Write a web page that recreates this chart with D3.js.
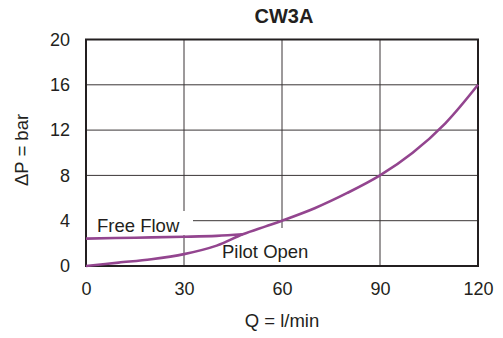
<!DOCTYPE html>
<html><head><meta charset="utf-8">
<script src="https://cdn.jsdelivr.net/npm/d3@7"></script>
<style>body{margin:0;background:#fff}svg{display:block}text{font-family:"Liberation Sans",Arial,sans-serif;fill:#231f20}</style>
</head><body><svg id="c" width="503" height="338"></svg>
<script>
const xTicks = [0, 30, 60, 90, 120];
const yTicks = [0, 4, 8, 12, 16, 20];
const pilotQ = [0, 10, 20, 30, 40, 48, 55, 60, 70, 80, 90, 100, 110, 120];
const pilotP = [0, 0.3, 0.6, 1.05, 1.8, 2.8, 3.5, 4.0, 5.1, 6.45, 8.0, 10.0, 12.6, 16];
const freeQ = [0, 15, 30, 40, 48];
const freeP = [2.42, 2.5, 2.58, 2.66, 2.8];
const title = "CW3A", xLabel = "Q = l/min", yLabel = "ΔP = bar";

const svg = d3.select("#c");
const L = 86, R = 478, T = 39.5, B = 266;
const x = d3.scaleLinear().domain([0, 120]).range([L, R]);
const y = d3.scaleLinear().domain([0, 20]).range([B, T]);

const g = svg.append("g");
g.selectAll(".vx").data(xTicks.slice(1, -1)).join("line")
  .attr("x1", d => x(d)).attr("x2", d => x(d)).attr("y1", T).attr("y2", B)
  .attr("stroke", "#3a3536").attr("stroke-width", 1);
g.selectAll(".hy").data(yTicks.slice(1, -1)).join("line")
  .attr("y1", d => y(d)).attr("y2", d => y(d)).attr("x1", L).attr("x2", R)
  .attr("stroke", "#3a3536").attr("stroke-width", 1);

svg.append("rect").attr("x", L + 1).attr("y", 211).attr("width", 106).attr("height", 24).attr("fill", "#fff");
svg.append("rect").attr("x", 216).attr("y", 228).attr("width", 102).attr("height", 37).attr("fill", "#fff");

svg.append("rect").attr("x", L).attr("y", T).attr("width", R - L).attr("height", B - T)
  .attr("fill", "none").attr("stroke", "#231f20").attr("stroke-width", 2);

const xa = d3.axisBottom(x).tickValues(xTicks).tickSize(0).tickPadding(16);
const xg = svg.append("g").attr("transform", `translate(0,${B})`).call(xa);
const ya = d3.axisLeft(y).tickValues(yTicks).tickSize(0).tickPadding(16);
const yg = svg.append("g").attr("transform", `translate(${L},0)`).call(ya);
[xg, yg].forEach(a => { a.select(".domain").remove(); a.selectAll("text").attr("font-size", 18).attr("fill", "#231f20").style("font-family", '"Liberation Sans",Arial,sans-serif'); });

const line = d3.line().x(d => x(d[0])).y(d => y(d[1])).curve(d3.curveCatmullRom.alpha(0.5));
svg.append("path").datum(freeQ.map((q, i) => [q, freeP[i]])).attr("d", line)
  .attr("fill", "none").attr("stroke", "#93458f").attr("stroke-width", 2.6);
svg.append("path").datum(pilotQ.map((q, i) => [q, pilotP[i]])).attr("d", line)
  .attr("fill", "none").attr("stroke", "#93458f").attr("stroke-width", 2.6);

svg.append("text").attr("x", 97).attr("y", 232).attr("font-size", 18.5).text("Free Flow");
svg.append("text").attr("x", 222).attr("y", 258).attr("font-size", 18.5).text("Pilot Open");

svg.append("text").attr("x", 284).attr("y", 23).attr("text-anchor", "middle").attr("font-size", 20).attr("font-weight", "bold").text(title);
svg.append("text").attr("x", 282).attr("y", 327).attr("text-anchor", "middle").attr("font-size", 18.5).text(xLabel);
svg.append("text").attr("transform", "translate(28,150) rotate(-90)").attr("text-anchor", "middle").attr("font-size", 18.5).text(yLabel);
</script></body></html>
